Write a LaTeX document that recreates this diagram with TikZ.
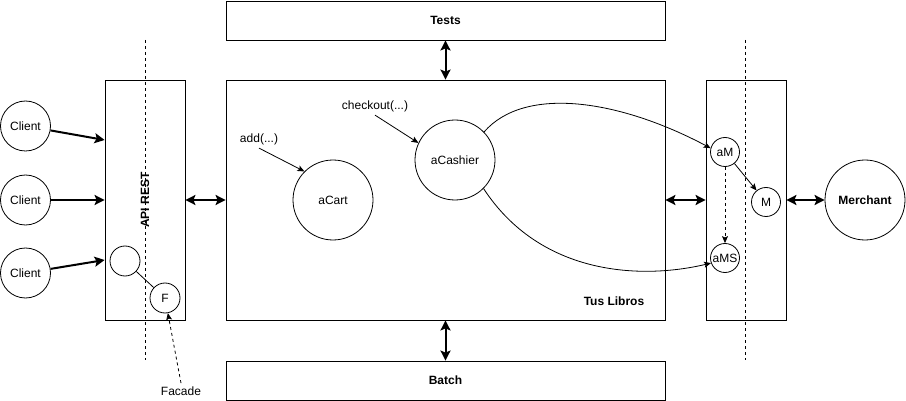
\documentclass[tikz,border=0pt]{standalone}
\usepackage{fontspec}
\setmainfont{Liberation Sans}
\usetikzlibrary{arrows.meta,calc}
\begin{document}
\begin{tikzpicture}[x=1pt,y=-1pt,
  every node/.style={font=\fontsize{12}{14}\selectfont},
  box/.style={draw,line width=0.8pt,rectangle,inner sep=0pt},
  circ/.style={draw,line width=0.8pt,circle,inner sep=0pt},
  thick arrow/.style={line width=2pt,-{Stealth[length=10pt,width=10pt,inset=2pt]}},
  dbl arrow/.style={line width=2pt,{Stealth[length=10pt,width=10pt,inset=2pt]}-{Stealth[length=10pt,width=10pt,inset=2pt]}},
  thin arrow/.style={line width=0.8pt,-{Stealth[length=7pt,width=6pt,inset=1.5pt]}},
  divider/.style={line width=0.8pt,dash pattern=on 3pt off 3pt}]
\useasboundingbox (0,0) rectangle (906,401);
% boxes
\node[box,minimum width=439pt,minimum height=39pt,font=\fontsize{12}{14}\selectfont\bfseries] (tests) at (445.5,20.5) {Tests};
\node[box,minimum width=439pt,minimum height=240pt] (main) at (445.5,200) {};
\node[box,minimum width=439pt,minimum height=39pt,font=\fontsize{12}{14}\selectfont\bfseries] (batch) at (445.5,380.5) {Batch};
\node[font=\fontsize{12}{14}\selectfont\bfseries] (tuslibros) at (614,301) {Tus Libros};
\node[box,minimum width=80pt,minimum height=240pt] (api) at (145,200) {};
\node[box,minimum width=80pt,minimum height=240pt] (right) at (746,200) {};
% dividers
\coordinate (d1a) at (145,40); \coordinate (d1b) at (145,360);
\coordinate (d2a) at (745,40); \coordinate (d2b) at (745,360);
\draw[divider] (d1a) -- (d1b);
\draw[divider] (d2a) -- (d2b);
\node[rotate=90,font=\fontsize{12}{14}\selectfont\bfseries] (apitext) at (145,200) {API REST};
% clients
\node[circ,minimum size=50pt] (c1) at (25.5,126) {Client};
\node[circ,minimum size=50pt] (c2) at (25.5,200) {Client};
\node[circ,minimum size=50pt] (c3) at (25.5,273) {Client};
\draw[thick arrow] (c1) -- ($(api.west)+(0,-60)$);
\draw[thick arrow] (c2) -- (api.west);
\draw[thick arrow] (c3) -- ($(api.west)+(0,60)$);
% facade
\node[circ,minimum size=30pt] (e) at (125,261) {};
\node[circ,minimum size=30pt] (f) at (165,298) {F};
\draw[line width=0.8pt] (e) -- (f);
\node (facade) at (181,391) {Facade};
\draw[thin arrow,dash pattern=on 3pt off 3pt] (facade.north) -- (f);
% double arrows
\draw[dbl arrow] (api.east) -- (main.west);
\draw[dbl arrow] (tests.south) -- (main.north);
\draw[dbl arrow] (main.south) -- (batch.north);
\draw[dbl arrow] (main.east) -- (right.west);
% core objects
\node[circ,minimum size=80pt] (cart) at (333,200) {aCart};
\node[circ,minimum size=80pt] (cashier) at (455,160) {aCashier};
\node (add) at (259,139) {add(...)};
\node (checkout) at (375,106) {checkout(...)};
\draw[thin arrow] (add.south) -- (cart.135);
\draw[thin arrow] (checkout.south) -- (cashier.155);
% right side
\node[circ,minimum size=29pt] (aM) at (725,152) {aM};
\node[circ,minimum size=29pt] (M) at (766,202) {M};
\node[circ,minimum size=29pt] (aMS) at (725,258) {aMS};
\node[circ,minimum size=80pt,font=\fontsize{12}{14}\selectfont\bfseries] (merchant) at (865,200) {Merchant};
\draw[dbl arrow] (right.east) -- (merchant);
\draw[thin arrow] (aM) -- (M);
\draw[thin arrow,dash pattern=on 3pt off 3pt] (aM) -- (aMS);
\draw[thin arrow] (cashier.44) .. controls (525,85) and (620,100) .. (aM.165);
\draw[thin arrow] (cashier.-45) .. controls (540,275) and (640,280) .. (aMS.200);
\end{tikzpicture}
\end{document}
